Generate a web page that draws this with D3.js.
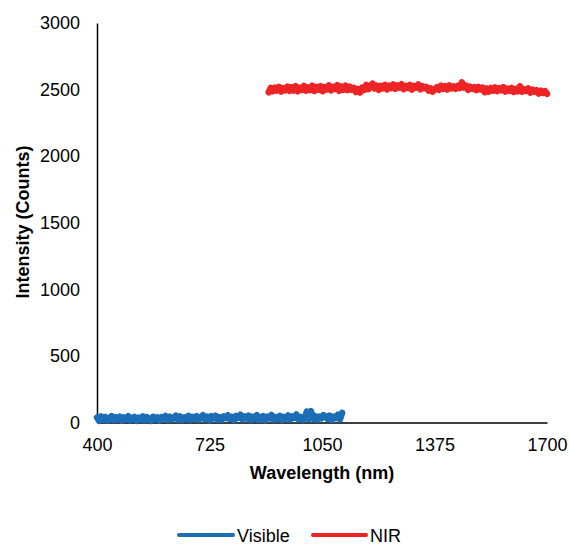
<!DOCTYPE html>
<html>
<head>
<meta charset="utf-8">
<script src="https://cdn.jsdelivr.net/npm/d3@7/dist/d3.min.js"></script>
<style>
  html, body { margin: 0; padding: 0; background: #fff; }
  svg { display: block; font-family: "Liberation Sans", Arial, sans-serif; }
</style>
</head>
<body>
<svg id="chart" width="569" height="544"></svg>
<script>
// ---- data ----
const seriesNames = ["Visible", "NIR"];
const xTicks = [400, 725, 1050, 1375, 1700];
const yTicks = [0, 500, 1000, 1500, 2000, 2500, 3000];

const visibleStart = 400, visibleStep = 6;
const visibleValues = [
  38, 12, 45, 20, 41, 15, 36, 48, 18, 40,
  22, 44, 14, 39, 25, 47, 16, 35, 42, 13,
  37, 21, 46, 17, 40, 28, 12, 43, 24, 38,
  15, 41, 30, 49, 19, 44, 23, 36, 51, 20,
  45, 17, 39, 26, 50, 18, 42, 29, 47, 21,
  38, 55, 24, 43, 16, 48, 31, 52, 22, 40,
  19, 46, 33, 54, 25, 41, 17, 49, 36, 58,
  23, 45, 30, 51, 18, 43, 27, 55, 20, 39,
  48, 16, 44, 32, 57, 21, 40, 26, 50, 18,
  42, 29, 53, 22, 46, 35, 60, 24, 41, 19,
  30, 82, 25, 86, 28, 48, 20, 44, 31, 56,
  47, 27, 52, 19, 43, 33, 58, 24, 72
];

const nirStart = 896, nirStep = 6;
const nirValues = [
  2480, 2512, 2488, 2515, 2492, 2520, 2485, 2510, 2495, 2522,
  2490, 2518, 2493, 2525, 2487, 2514, 2498, 2528, 2492, 2517,
  2496, 2530, 2490, 2520, 2500, 2526, 2488, 2519, 2502, 2532,
  2494, 2521, 2505, 2533, 2491, 2524, 2499, 2529, 2496, 2522,
  2500, 2512, 2482, 2505, 2478, 2515, 2498, 2535, 2503, 2528,
  2545, 2508, 2530, 2498, 2527, 2510, 2536, 2501, 2529, 2512,
  2538, 2505, 2531, 2515, 2540, 2503, 2527, 2512, 2535, 2500,
  2528, 2516, 2538, 2502, 2525, 2510, 2520, 2492, 2508, 2485,
  2505, 2518, 2498, 2530, 2506, 2525, 2500, 2532, 2510, 2523,
  2505, 2528, 2512, 2555, 2515, 2530, 2498, 2522, 2505, 2518,
  2496, 2520, 2502, 2515, 2480, 2508, 2485, 2512, 2492, 2516,
  2488, 2510, 2495, 2518, 2485, 2507, 2490, 2513, 2482, 2505,
  2488, 2525, 2484, 2503, 2490, 2508, 2478, 2500, 2484, 2495,
  2470, 2492, 2475, 2488, 2468
];

const colors = ["#1b6db5", "#ee2326"];

// ---- build ----
const visible = visibleValues.map((v, i) => ({ x: visibleStart + i * visibleStep, y: v }));
const nir = nirValues.map((v, i) => ({ x: nirStart + i * nirStep, y: v }));
const series = [visible, nir];

const svg = d3.select("#chart");
const x = d3.scaleLinear().domain([400, 1700]).range([97, 547]);
const y = d3.scaleLinear().domain([0, 3000]).range([422.5, 23]);

const fontSize = 18;
const fmt = d3.format("d");

// y axis
const yAxis = svg.append("g")
  .attr("transform", `translate(${x(400)},0)`)
  .call(d3.axisLeft(y).tickValues(yTicks).tickFormat(fmt).tickSize(0).tickSizeOuter(0).tickPadding(17));
yAxis.select(".domain").attr("stroke", "#000").attr("stroke-width", 1.5);
yAxis.selectAll("text").attr("font-size", fontSize).attr("fill", "#000")
  .attr("font-family", "Liberation Sans, Arial, sans-serif");

// x axis
const xAxis = svg.append("g")
  .attr("transform", `translate(0,${y(0)})`)
  .call(d3.axisBottom(x).tickValues(xTicks).tickFormat(fmt).tickSize(0).tickSizeOuter(0).tickPadding(16));
xAxis.select(".domain").attr("stroke", "#000").attr("stroke-width", 1.5);
xAxis.selectAll("text").attr("font-size", fontSize).attr("fill", "#000")
  .attr("font-family", "Liberation Sans, Arial, sans-serif");

// lines
const line = d3.line().x(d => x(d.x)).y(d => y(d.y));
svg.append("g").selectAll("path")
  .data(series)
  .join("path")
  .attr("d", line)
  .attr("fill", "none")
  .attr("stroke", (d, i) => colors[i])
  .attr("stroke-width", 6.5)
  .attr("stroke-linejoin", "round")
  .attr("stroke-linecap", "round");

// axis titles
svg.append("text")
  .attr("x", 322).attr("y", 479)
  .attr("text-anchor", "middle")
  .attr("font-size", fontSize).attr("font-weight", "bold")
  .text("Wavelength (nm)");

svg.append("text")
  .attr("transform", "translate(29,222) rotate(-90)")
  .attr("text-anchor", "middle")
  .attr("font-size", fontSize).attr("font-weight", "bold")
  .text("Intensity (Counts)");

// legend
const legendItems = [
  { name: seriesNames[0], x0: 179, x1: 233, tx: 237 },
  { name: seriesNames[1], x0: 313, x1: 366, tx: 370 }
];
const lg = svg.append("g");
legendItems.forEach((it, i) => {
  lg.append("line")
    .attr("x1", it.x0).attr("x2", it.x1)
    .attr("y1", 535).attr("y2", 535)
    .attr("stroke", colors[i]).attr("stroke-width", 4)
    .attr("stroke-linecap", "round");
  lg.append("text")
    .attr("x", it.tx).attr("y", 541.5)
    .attr("font-size", fontSize)
    .text(it.name);
});
</script>
</body>
</html>
